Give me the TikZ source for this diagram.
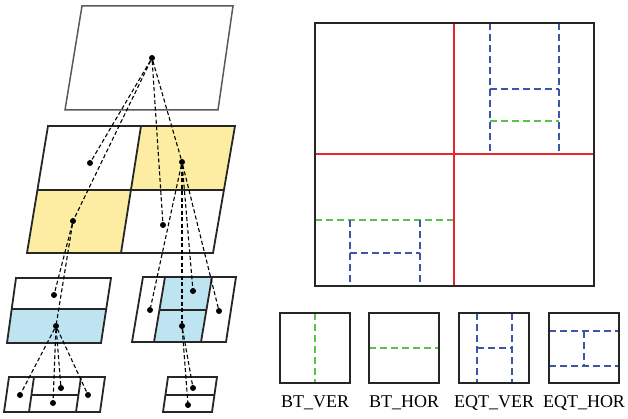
\documentclass[tikz,border=0pt]{standalone}
\usepackage{fontspec}
\setmainfont{Liberation Serif}
\definecolor{cellyellow}{HTML}{FCEDA3}
\definecolor{cellblue}{HTML}{BEE4F2}
\definecolor{splitred}{HTML}{E8262D}
\definecolor{btgreen}{HTML}{5CBF4E}
\definecolor{eqtblue}{HTML}{3C56A6}
\tikzset{
  frame/.style={line width=1.8pt, draw=black!85},
  bt/.style={btgreen, line width=1.4pt, dash pattern=on 7pt off 4pt},
  eqt/.style={eqtblue, line width=1.4pt, dash pattern=on 7pt off 4pt},
  qt/.style={splitred, line width=1.5pt},
  dot/.style={circle, fill=black, inner sep=0pt, minimum size=6pt},
  link/.style={line width=1.1pt, dash pattern=on 4pt off 2.5pt},
  lbl/.style={font=\fontsize{18}{18}\selectfont, anchor=base}
}
\begin{document}
\begin{tikzpicture}[x=1pt, y=-1pt]
  \useasboundingbox (0,0) rectangle (628,419);

  % CTU
  \draw [line width=1.5pt, draw=black!65] (82,6) -- (233,6) -- (218,110) -- (65,110) -- cycle;
  \node [dot] (ctu) at (152,58) {};

  % quad-tree split
  \fill [cellyellow] (141,126) -- (235,126) -- (224,190) -- (131,190) -- cycle;
  \fill [cellyellow] (38,190) -- (131,190) -- (121,253) -- (27,253) -- cycle;
  \draw [frame] (48,126) -- (235,126) -- (213,253) -- (27,253) -- cycle;
  \draw [frame] (38,190) -- (224,190);
  \draw [frame] (141,126) -- (121,253);
  \node [dot] (qa) at (90,163) {};
  \node [dot] (qb) at (182,162) {};
  \node [dot] (qc) at (73,221) {};
  \node [dot] (qd) at (163,225) {};

  % binary split of qc
  \fill [cellblue] (11.7,309) -- (106.2,309) -- (101,343) -- (7,343) -- cycle;
  \draw [frame] (16,278) -- (111,278) -- (101,343) -- (7,343) -- cycle;
  \draw [frame] (11.7,309) -- (106.2,309);
  \node [dot] (ba) at (54,295) {};
  \node [dot] (bb) at (56,326) {};

  % extended quad-tree split of qb
  \fill [cellblue] (165,277) -- (212,277) -- (201,342) -- (154,342) -- cycle;
  \draw [frame] (143,277) -- (236,277) -- (226,342) -- (132,342) -- cycle;
  \draw [frame] (165,277) -- (154,342);
  \draw [frame] (212,277) -- (201,342);
  \draw [frame] (159.4,310) -- (206.4,310);
  \node [dot] (ea) at (150,310) {};
  \node [dot] (eb) at (193,291) {};
  \node [dot] (ec) at (219,311) {};
  \node [dot] (ed) at (182,326) {};

  % extended quad-tree split of bb
  \draw [frame] (9,377) -- (105,377) -- (100,412) -- (4,412) -- cycle;
  \draw [frame] (34,377) -- (29,412);
  \draw [frame] (81,377) -- (76,412);
  \draw [frame] (31.4,395) -- (78.4,395);
  \node [dot] (fa) at (20,395) {};
  \node [dot] (fb) at (61,388) {};
  \node [dot] (fc) at (88,395) {};
  \node [dot] (fd) at (53,403) {};

  % binary split of ed
  \draw [frame] (168,377) -- (217,377) -- (212,412) -- (163,412) -- cycle;
  \draw [frame] (165.4,395) -- (214.4,395);
  \node [dot] (ga) at (193,388) {};
  \node [dot] (gb) at (188,405) {};

  % tree links
  \draw [link] (ctu) -- (qa);
  \draw [link] (ctu) -- (qb);
  \draw [link] (ctu) -- (qc);
  \draw [link] (ctu) -- (qd);
  \draw [link] (qc) -- (ba);
  \draw [link] (qc) -- (bb);
  \draw [link] (qb) -- (ea);
  \draw [link] (qb) -- (eb);
  \draw [link] (qb) -- (ec);
  \draw [link] (qb) -- (ed);
  \draw [link] (bb) -- (fa);
  \draw [link] (bb) -- (fb);
  \draw [link] (bb) -- (fc);
  \draw [link] (bb) -- (fd);
  \draw [link] (ed) -- (ga);
  \draw [link] (ed) -- (gb);

  % partitioned CTU
  \draw [eqt] (490,23) -- (490,151);
  \draw [eqt] (559,23) -- (559,151);
  \draw [eqt] (490,89) -- (559,89);
  \draw [bt] (490,121) -- (559,121);
  \draw [bt] (315,220) -- (454,220);
  \draw [eqt] (350,220) -- (350,286);
  \draw [eqt] (420,220) -- (420,286);
  \draw [eqt] (350,253) -- (420,253);
  \draw [qt] (454,23) -- (454,286);
  \draw [qt] (315,154) -- (594,154);
  \draw [frame] (315,23) rectangle (594,286);

  % split types
  \draw [bt] (315,313) -- (315,383);
  \draw [frame] (280,313) rectangle (350,383);
  \node [lbl] (btver) at (315,407) {BT\_VER};

  \draw [bt] (369,348) -- (439,348);
  \draw [frame] (369,313) rectangle (439,383);
  \node [lbl] (bthor) at (404,407) {BT\_HOR};

  \draw [eqt] (477,313) -- (477,383);
  \draw [eqt] (512,313) -- (512,383);
  \draw [eqt] (477,348) -- (512,348);
  \draw [frame] (459,313) rectangle (529,383);
  \node [lbl] (eqtver) at (494,407) {EQT\_VER};

  \draw [eqt] (549,331) -- (619,331);
  \draw [eqt] (549,366) -- (619,366);
  \draw [eqt] (584,331) -- (584,366);
  \draw [frame] (549,313) rectangle (619,383);
  \node [lbl] (eqthor) at (584,407) {EQT\_HOR};
\end{tikzpicture}
\end{document}
